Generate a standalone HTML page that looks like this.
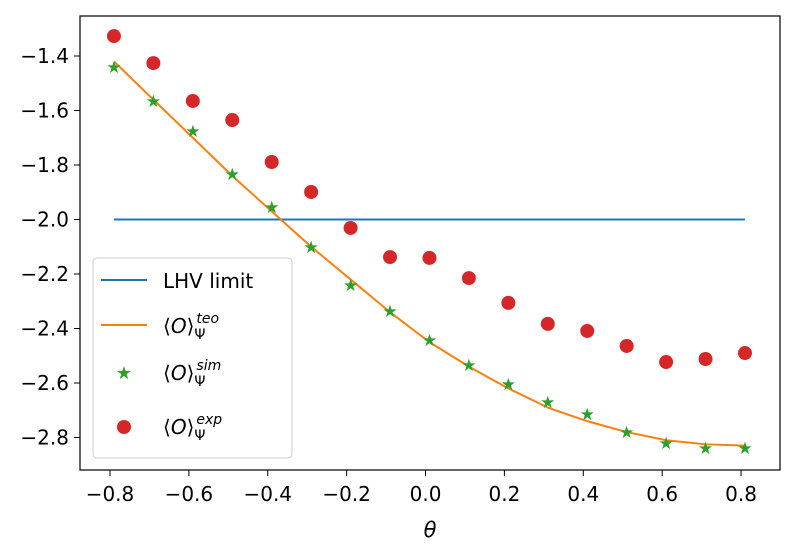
<!DOCTYPE html>
<html><head><meta charset="utf-8"><style>
body{margin:0;background:#fff}
svg text{font-family:"DejaVu Sans","Liberation Sans",sans-serif;fill:#000}
</style></head><body>
<svg id="chart" width="796" height="550" xmlns="http://www.w3.org/2000/svg">
<g id="plot"></g>
<rect x="80" y="16" width="700" height="454" fill="none" stroke="#000" stroke-width="1.2"/>
<g id="xt"></g>
<g id="yt"></g>
<text x="430" y="537" font-size="21" font-style="italic" text-anchor="middle">θ</text>
<g>
<rect x="93" y="258" width="199" height="200" rx="4" fill="#fff" fill-opacity="0.85" stroke="#ccc"/>
<line x1="101" y1="280" x2="147" y2="280" stroke="#1f77b4" stroke-width="2"/>
<text x="163" y="288" font-size="20">LHV limit</text>
<line x1="101" y1="325" x2="147" y2="325" stroke="#ff7f0e" stroke-width="2"/>
<text x="163" y="333" font-size="20">⟨<tspan font-style="italic">O</tspan>⟩<tspan font-size="14" dy="6">Ψ</tspan><tspan font-size="14" font-style="italic" dy="-16" dx="-9">teo</tspan></text>
<text x="124" y="379" font-size="18" fill="#2ca02c" text-anchor="middle" style="fill:#2ca02c">★</text>
<text x="163" y="380" font-size="20">⟨<tspan font-style="italic">O</tspan>⟩<tspan font-size="14" dy="6">Ψ</tspan><tspan font-size="14" font-style="italic" dy="-16" dx="-9">sim</tspan></text>
<circle cx="124" cy="427" r="7" fill="#d62728"/>
<text x="163" y="434" font-size="20">⟨<tspan font-style="italic">O</tspan>⟩<tspan font-size="14" dy="6">Ψ</tspan><tspan font-size="14" font-style="italic" dy="-16" dx="-9">exp</tspan></text>
</g>
</svg>
<script>
const thetas=[-0.79,-0.69,-0.59,-0.49,-0.39,-0.29,-0.19,-0.09,0.01,0.11,0.21,0.31,0.41,0.51,0.61,0.71,0.81];
const teoValues=[-1.42,-1.56,-1.70,-1.84,-1.97,-2.10,-2.22,-2.34,-2.45,-2.54,-2.62,-2.69,-2.74,-2.78,-2.81,-2.825,-2.83];
const simValues=[-1.44,-1.565,-1.675,-1.833,-1.954,-2.101,-2.24,-2.336,-2.442,-2.534,-2.604,-2.67,-2.714,-2.78,-2.82,-2.838,-2.838];
const expValues=[-1.327,-1.426,-1.565,-1.635,-1.789,-1.899,-2.031,-2.138,-2.141,-2.215,-2.306,-2.383,-2.409,-2.464,-2.523,-2.512,-2.49];
const lhvLimit=-2;
const xTicks=[-0.8,-0.6,-0.4,-0.2,0,0.2,0.4,0.6,0.8];
const yTicks=[-1.4,-1.6,-1.8,-2.0,-2.2,-2.4,-2.6,-2.8];
const NS="http://www.w3.org/2000/svg";
const X=v=>110+(v+0.8)*394.4;
const Y=v=>56+(-1.4-v)*272.5;
function mk(t,a,p){const e=document.createElementNS(NS,t);for(const k in a)e.setAttribute(k,a[k]);p.appendChild(e);return e;}
const plot=document.getElementById('plot'),xt=document.getElementById('xt'),yt=document.getElementById('yt');
const fmt=v=>(v<0?'\u2212':'')+Math.abs(v).toFixed(1);
xTicks.forEach(v=>{const x=X(v);
 const l=mk('line',{x1:x,x2:x,y1:470,y2:476,stroke:'#000'},xt);
 
 
 const t=mk('text',{x:x,y:501,'font-size':20,'text-anchor':'middle'},xt);t.textContent=fmt(v);
 
 });
yTicks.forEach(v=>{const y=Y(v);
 const l=mk('line',{x1:74,x2:80,y1:y,y2:y,stroke:'#000'},yt);
 
 
 const t=mk('text',{x:69,y:y+7,'font-size':20,'text-anchor':'end'},yt);t.textContent=fmt(v);
 
 });
const lhv=mk('line',{x1:X(thetas[0]),x2:X(thetas[thetas.length-1]),y1:Y(lhvLimit),y2:Y(lhvLimit),stroke:'#1f77b4','stroke-width':2},plot);


const teo=mk('polyline',{points:thetas.map((t,i)=>X(t)+','+Y(teoValues[i])).join(' '),fill:'none',stroke:'#ff7f0e','stroke-width':2,'stroke-linejoin':'round'},plot);


thetas.forEach((t,i)=>{const c=mk('circle',{cx:X(t),cy:Y(expValues[i]),r:7,fill:'#d62728'},plot);
 
 });
thetas.forEach((t,i)=>{const s=mk('text',{x:X(t),y:Y(simValues[i])+6,'font-size':17,'text-anchor':'middle',style:'fill:#2ca02c'},plot);s.textContent='★';
 
 });
</script>
</body></html>
